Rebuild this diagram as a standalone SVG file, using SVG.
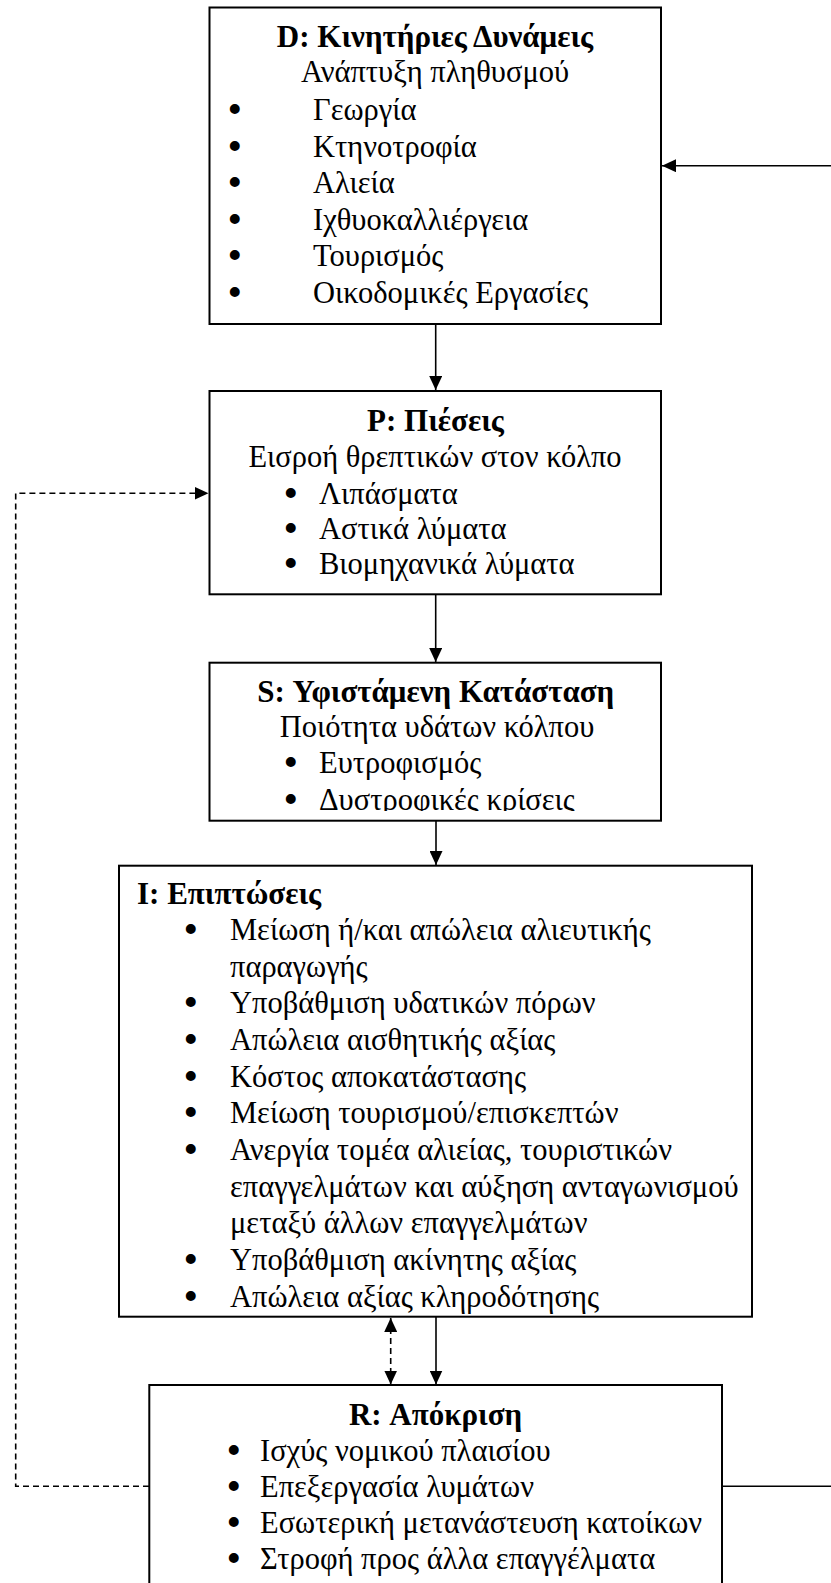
<svg xmlns="http://www.w3.org/2000/svg" width="831" height="1583" viewBox="0 0 831 1583">
  <style>
    .box { fill: #ffffff; stroke: #000000; stroke-width: 2; }
    .t { font-family: "Liberation Serif", "Times New Roman", serif; font-size: 30.5px; fill: #000000; }
    .b { font-weight: bold; font-size: 31px; }
    .c { text-anchor: middle; }
    .bu { font-family: "Liberation Serif", "Times New Roman", serif; font-size: 33px; fill: #000000; stroke: #000000; stroke-width: 2; }
    .ln { fill: none; stroke: #000000; stroke-width: 1.6; }
    .dash { stroke-dasharray: 6 4; }
  </style>
  <defs>
    <marker id="arr" markerWidth="14" markerHeight="13" refX="14" refY="6.5" orient="auto" markerUnits="userSpaceOnUse">
      <path d="M0,0 L14,6.5 L0,13 Z" fill="#000000"/>
    </marker>
    <marker id="arrStart" markerWidth="14" markerHeight="13" refX="0" refY="6.5" orient="auto" markerUnits="userSpaceOnUse">
      <path d="M14,0 L0,6.5 L14,13 Z" fill="#000000"/>
    </marker>
    <clipPath id="clipS">
      <rect x="210" y="663" width="451" height="148"/>
    </clipPath>
  </defs>

  <!-- connectors -->
  <g id="connectors">
    <line class="ln" x1="831" y1="165.7" x2="662" y2="165.7" marker-end="url(#arr)"/>
    <line class="ln" x1="435.7" y1="324" x2="435.7" y2="390" marker-end="url(#arr)"/>
    <line class="ln" x1="435.7" y1="594.3" x2="435.7" y2="662" marker-end="url(#arr)"/>
    <line class="ln" x1="436" y1="820.7" x2="436" y2="865" marker-end="url(#arr)"/>
    <line class="ln" x1="436" y1="1316.7" x2="436" y2="1384.5" marker-end="url(#arr)"/>
    <line class="ln dash" x1="390.7" y1="1318" x2="390.7" y2="1384.5" marker-start="url(#arrStart)" marker-end="url(#arr)"/>
    <polyline class="ln dash" points="149,1486.3 15.7,1486.3 15.7,493.3 208.5,493.3" marker-end="url(#arr)"/>
    <line class="ln" x1="722" y1="1486.3" x2="831" y2="1486.3"/>
  </g>

  <!-- D: driving forces -->
  <g id="node-D">
    <rect class="box" x="209.5" y="7.5" width="451.5" height="316.5"/>
    <text class="t b c" x="435" y="47">D: Κινητήριες Δυνάμεις</text>
    <text class="t c" x="435" y="82">Ανάπτυξη πληθυσμού</text>
    <text class="bu" x="229" y="121">•</text><text class="t" x="313" y="120">Γεωργία</text>
    <text class="bu" x="229" y="157.6">•</text><text class="t" x="313" y="156.6">Κτηνοτροφία</text>
    <text class="bu" x="229" y="194.2">•</text><text class="t" x="313" y="193.2">Αλιεία</text>
    <text class="bu" x="229" y="230.8">•</text><text class="t" x="313" y="229.8">Ιχθυοκαλλιέργεια</text>
    <text class="bu" x="229" y="267.4">•</text><text class="t" x="313" y="266.4">Τουρισμός</text>
    <text class="bu" x="229" y="304">•</text><text class="t" x="313" y="303">Οικοδομικές Εργασίες</text>
  </g>

  <!-- P: pressures -->
  <g id="node-P">
    <rect class="box" x="209.5" y="391" width="451.5" height="203.3"/>
    <text class="t b c" x="435.5" y="431">P: Πιέσεις</text>
    <text class="t c" x="435" y="467">Εισροή θρεπτικών στον κόλπο</text>
    <text class="bu" x="285" y="505">•</text><text class="t" x="319" y="504">Λιπάσματα</text>
    <text class="bu" x="285" y="540">•</text><text class="t" x="319" y="539">Αστικά λύματα</text>
    <text class="bu" x="285" y="575">•</text><text class="t" x="319" y="574">Βιομηχανικά λύματα</text>
  </g>

  <!-- S: state -->
  <g id="node-S">
    <rect class="box" x="209.5" y="662.7" width="451.5" height="158"/>
    <g clip-path="url(#clipS)">
      <text class="t b c" x="435.7" y="702">S: Υφιστάμενη Κατάσταση</text>
      <text class="t c" x="437" y="737">Ποιότητα υδάτων κόλπου</text>
      <text class="bu" x="285" y="774">•</text><text class="t" x="319" y="773">Ευτροφισμός</text>
      <text class="bu" x="285" y="811">•</text><text class="t" x="319" y="810">Δυστροφικές κρίσεις</text>
    </g>
  </g>

  <!-- I: impacts -->
  <g id="node-I">
    <rect class="box" x="119" y="865.7" width="633" height="451"/>
    <text class="t b" x="137" y="904">I: Επιπτώσεις</text>
    <text class="bu" x="185" y="941">•</text><text class="t" x="230" y="940">Μείωση ή/και απώλεια αλιευτικής</text>
    <text class="t" x="230" y="977">παραγωγής</text>
    <text class="bu" x="185" y="1014">•</text><text class="t" x="230" y="1013">Υποβάθμιση υδατικών πόρων</text>
    <text class="bu" x="185" y="1051">•</text><text class="t" x="230" y="1050">Απώλεια αισθητικής αξίας</text>
    <text class="bu" x="185" y="1088">•</text><text class="t" x="230" y="1087">Κόστος αποκατάστασης</text>
    <text class="bu" x="185" y="1124">•</text><text class="t" x="230" y="1123">Μείωση τουρισμού/επισκεπτών</text>
    <text class="bu" x="185" y="1161">•</text><text class="t" x="230" y="1160">Ανεργία τομέα αλιείας, τουριστικών</text>
    <text class="t" x="230" y="1197">επαγγελμάτων και αύξηση ανταγωνισμού</text>
    <text class="t" x="230" y="1233">μεταξύ άλλων επαγγελμάτων</text>
    <text class="bu" x="185" y="1271">•</text><text class="t" x="230" y="1270">Υποβάθμιση ακίνητης αξίας</text>
    <text class="bu" x="185" y="1308">•</text><text class="t" x="230" y="1307">Απώλεια αξίας κληροδότησης</text>
  </g>

  <!-- R: response -->
  <g id="node-R">
    <rect class="box" x="149.3" y="1385" width="572.7" height="220"/>
    <text class="t b c" x="435.5" y="1425">R: Απόκριση</text>
    <text class="bu" x="228" y="1462">•</text><text class="t" x="260" y="1461">Ισχύς νομικού πλαισίου</text>
    <text class="bu" x="228" y="1498">•</text><text class="t" x="260" y="1497">Επεξεργασία λυμάτων</text>
    <text class="bu" x="228" y="1534">•</text><text class="t" x="260" y="1533">Εσωτερική μετανάστευση κατοίκων</text>
    <text class="bu" x="228" y="1570">•</text><text class="t" x="260" y="1569">Στροφή προς άλλα επαγγέλματα</text>
  </g>
</svg>
